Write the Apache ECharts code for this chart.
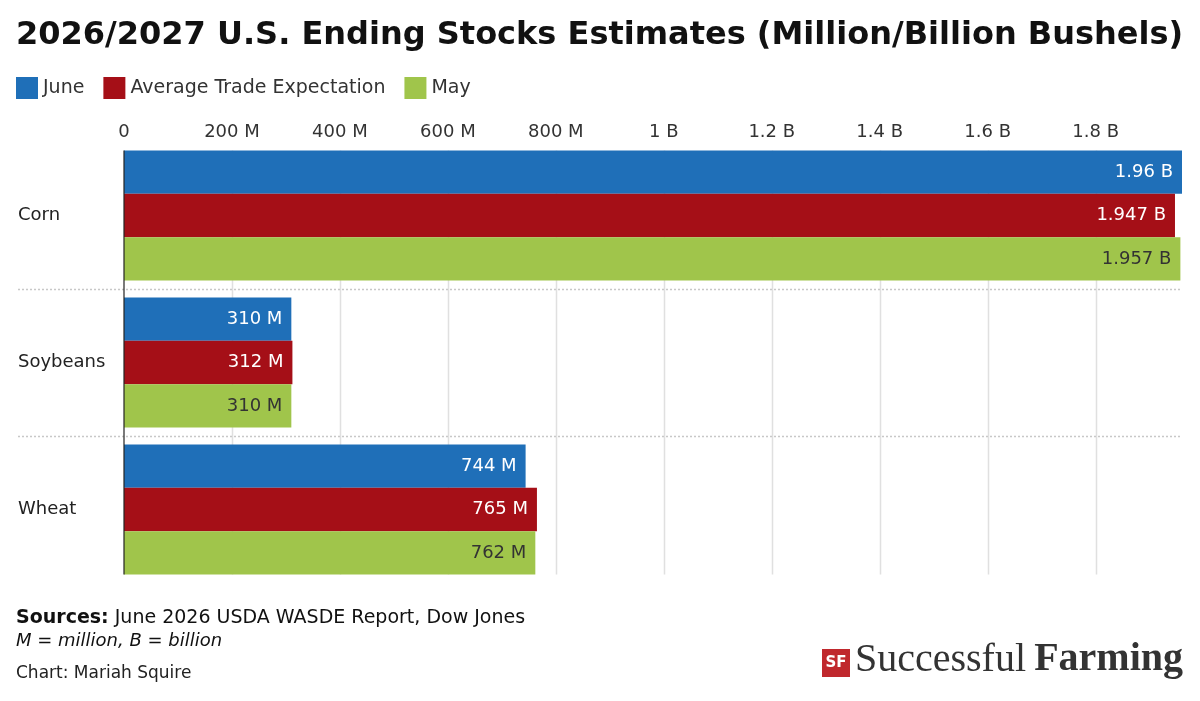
<!DOCTYPE html>
<html>
<head>
<meta charset="utf-8">
<script src="https://cdn.jsdelivr.net/npm/echarts@6/dist/echarts.min.js"></script>
<style>
html,body{margin:0;padding:0;background:#fff;}
#main{width:1200px;height:701px;}
</style>
</head>
<body>
<div id="main"></div>
<script>
const categories = ['Corn', 'Soybeans', 'Wheat'];
const seriesNames = ['June', 'Average Trade Expectation', 'May'];
const juneValues = [1960, 310, 744];
const tradeValues = [1947, 312, 765];
const mayValues = [1957, 310, 762];
const xTicks = { min: 0, max: 1960, interval: 200 };

const FONT = '"DejaVu Sans", "Noto Sans", sans-serif';
const colors = ['#1f6fb8', '#a50f17', '#a0c54b'];
const CAT_GAP = 0.115;

function fmt(v) {
  if (v === 0) return '0';
  if (v < 1000) return v + ' M';
  return (+(v / 1000).toFixed(3)) + ' B';
}

const chart = echarts.init(document.getElementById('main'));

function mkSeries(name, data, color, labelColor) {
  return {
    name: name,
    type: 'bar',
    data: data,
    barGap: '0%',
    barCategoryGap: (CAT_GAP * 100) + '%',
    itemStyle: { color: color },
    z: 5,
    label: {
      show: true,
      position: 'insideRight',
      distance: 9,
      color: labelColor,
      fontFamily: FONT,
      fontSize: 18,
      formatter: p => fmt(p.value)
    },
    emphasis: { disabled: true },
    animation: false
  };
}

const option = {
  animation: false,
  backgroundColor: '#fff',
  title: {
    text: '2026/2027 U.S. Ending Stocks Estimates (Million/Billion Bushels)',
    left: 16,
    top: 20,
    padding: 0,
    textStyle: { fontFamily: FONT, fontWeight: 'bold', fontSize: 32, color: '#111' }
  },
  legend: {
    left: 16,
    top: 77,
    padding: 0,
    itemWidth: 22,
    itemHeight: 22,
    itemGap: 19,
    icon: 'rect',
    selectedMode: false,
    textStyle: { fontFamily: FONT, fontSize: 19, color: '#333' },
    data: seriesNames
  },
  grid: { left: 124, right: 18, top: 142, bottom: 118, containLabel: false },
  xAxis: {
    type: 'value',
    position: 'top',
    min: xTicks.min,
    max: xTicks.max,
    interval: xTicks.interval,
    axisLine: { show: false },
    axisTick: { show: false },
    axisLabel: {
      showMaxLabel: false,
      margin: 1,
      color: '#333',
      fontFamily: FONT,
      fontSize: 18,
      formatter: v => fmt(v)
    },
    splitLine: { show: false }
  },
  yAxis: {
    type: 'category',
    data: categories,
    inverse: true,
    axisLine: { show: false },
    axisTick: { show: false },
    axisLabel: {
      align: 'left',
      margin: 106,
      color: '#222',
      fontFamily: FONT,
      fontSize: 18
    },
    splitLine: { show: false }
  },
  series: [
    mkSeries(seriesNames[0], juneValues, colors[0], '#fff'),
    mkSeries(seriesNames[1], tradeValues, colors[1], '#fff'),
    mkSeries(seriesNames[2], mayValues, colors[2], '#333')
  ]
};

chart.setOption(option);

// gridlines, separators and axis line, computed from the axis scales
const gfx = [];
const centers = categories.map(c => chart.convertToPixel({ yAxisIndex: 0 }, c));
const band = centers[1] - centers[0];
const half = band * (1 - CAT_GAP) / 2;
const yTop = centers[0] - half;
const yBot = centers[centers.length - 1] + half;
const x0 = chart.convertToPixel({ xAxisIndex: 0 }, xTicks.min);
const xr = chart.convertToPixel({ xAxisIndex: 0 }, xTicks.max);
for (let v = xTicks.min + xTicks.interval; v < xTicks.max; v += xTicks.interval) {
  const x = Math.round(chart.convertToPixel({ xAxisIndex: 0 }, v)) + 0.5;
  gfx.push({
    type: 'line', silent: true,
    shape: { x1: x, y1: yTop, x2: x, y2: yBot },
    style: { stroke: '#e0e0e0', lineWidth: 1.5 },
    z: -1
  });
}
for (let i = 0; i < categories.length - 1; i++) {
  const yb = Math.round((centers[i] + centers[i + 1]) / 2) + 0.5;
  gfx.push({
    type: 'line', silent: true,
    shape: { x1: 18, y1: yb, x2: xr, y2: yb },
    style: { stroke: '#c8c8c8', lineWidth: 1.5, lineDash: [2, 2] },
    z: 0
  });
}
gfx.push({
  type: 'line', silent: true,
  shape: { x1: x0, y1: yTop, x2: x0, y2: yBot },
  style: { stroke: '#222', lineWidth: 1.2 },
  z: 10
});

gfx.push({
  type: 'text', left: 16, top: 609,
  style: {
    text: '{b|Sources:} June 2026 USDA WASDE Report, Dow Jones',
    rich: { b: { fontWeight: 'bold', fontFamily: FONT, fontSize: 19, fill: '#111' } },
    fontFamily: FONT, fontSize: 19, fill: '#111'
  }
});
gfx.push({
  type: 'text', left: 16, top: 632,
  style: { text: 'M = million, B = billion', fontFamily: FONT, fontStyle: 'italic', fontSize: 18, fill: '#111' }
});
gfx.push({
  type: 'text', left: 16, top: 665,
  style: { text: 'Chart: Mariah Squire', fontFamily: FONT, fontSize: 17, fill: '#222' }
});
// logo
gfx.push({
  type: 'rect', shape: { x: 822, y: 649, width: 28, height: 28 },
  style: { fill: '#c0282d' }
});
gfx.push({
  type: 'text', x: 836, y: 663,
  style: { text: 'SF', fontFamily: FONT, fontWeight: 'bold', fontSize: 15, fill: '#fff', align: 'center', verticalAlign: 'middle' }
});
gfx.push({
  type: 'text', x: 1026, y: 680,
  style: { text: 'Successful', fontFamily: '"Liberation Serif", serif', fontSize: 40, fill: '#333', align: 'right', verticalAlign: 'bottom' }
});
gfx.push({
  type: 'text', x: 1183, y: 680,
  style: { text: 'Farming', fontFamily: '"Liberation Serif", serif', fontWeight: 'bold', fontSize: 40, fill: '#333', align: 'right', verticalAlign: 'bottom' }
});

chart.setOption({ graphic: gfx });
</script>
</body>
</html>
